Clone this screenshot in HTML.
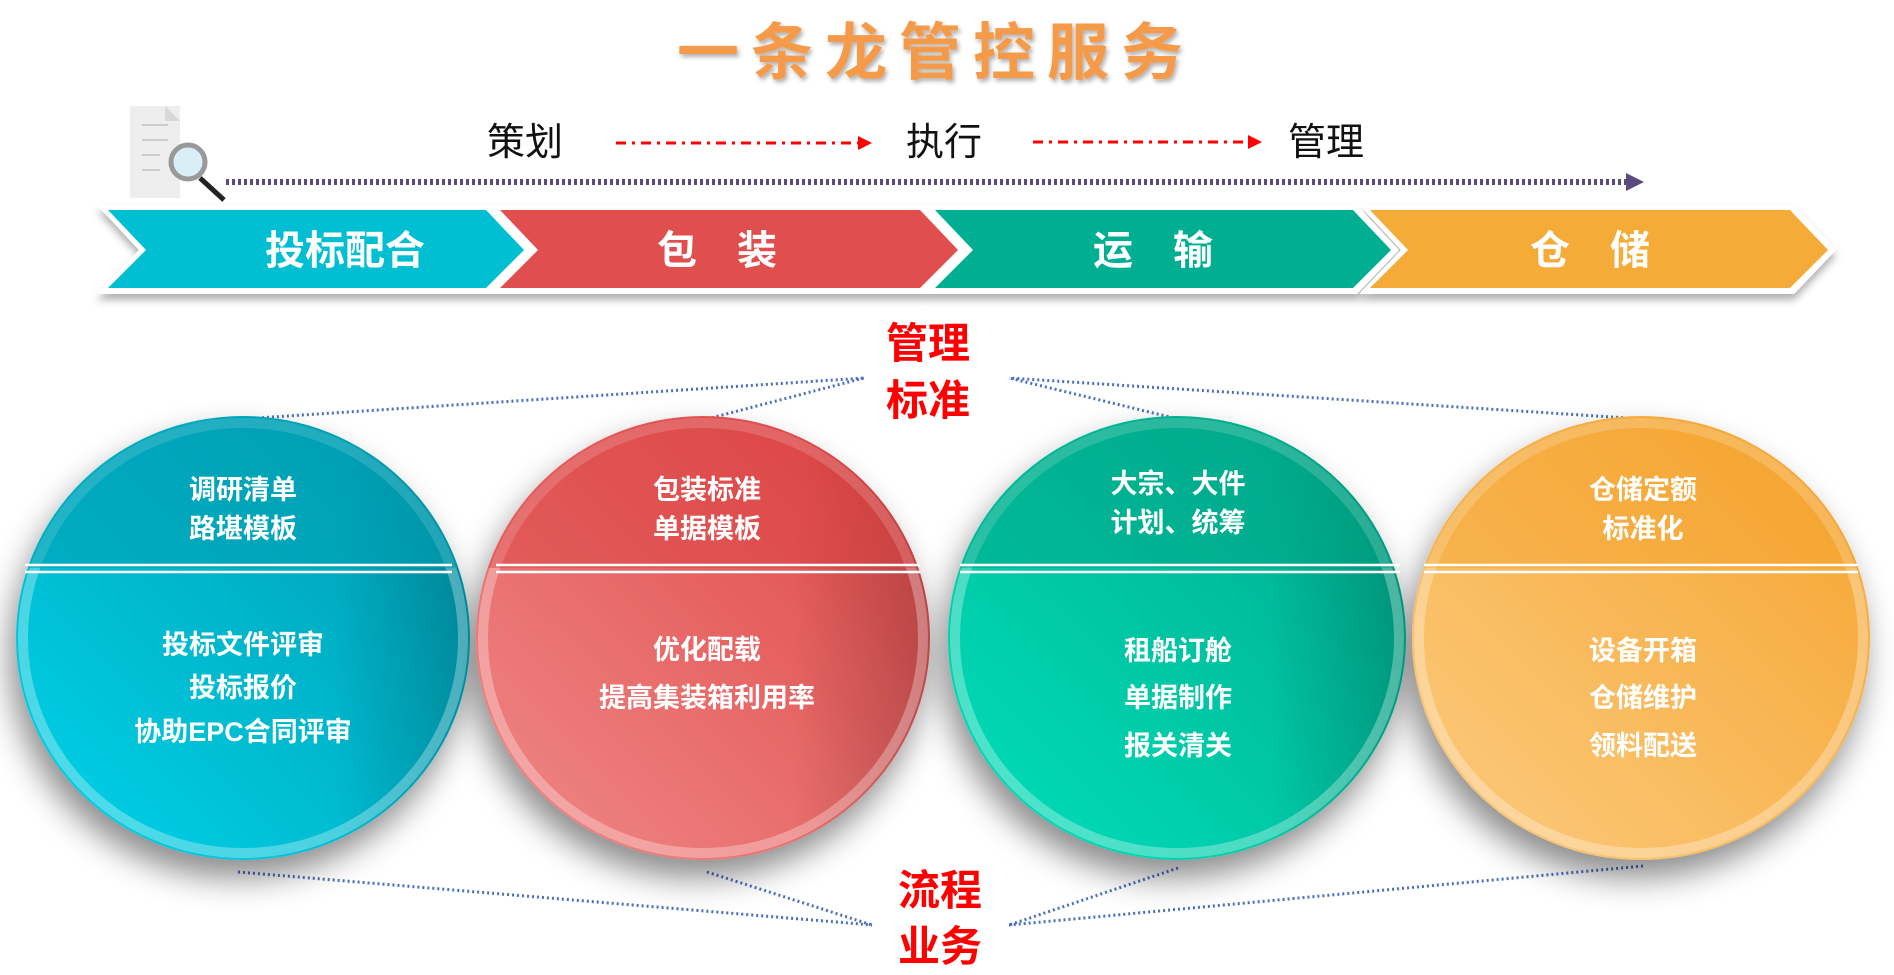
<!DOCTYPE html>
<html><head><meta charset="utf-8"><style>
html,body{margin:0;padding:0;background:#fff;}
svg{display:block;}
text{font-family:"Liberation Sans","Noto Sans CJK SC",sans-serif;}
</style></head><body>
<svg width="1894" height="975" viewBox="0 0 1894 975" xmlns="http://www.w3.org/2000/svg">
<defs>
<filter id="sh" x="-20%" y="-20%" width="140%" height="150%"><feDropShadow dx="-6" dy="18" stdDeviation="16" flood-color="#000" flood-opacity="0.45"/></filter>
<filter id="ts" x="-10%" y="-10%" width="120%" height="130%"><feDropShadow dx="2" dy="3" stdDeviation="2" flood-color="#000" flood-opacity="0.3"/></filter>
<filter id="cs" x="-5%" y="-10%" width="110%" height="140%"><feDropShadow dx="0" dy="6" stdDeviation="4" flood-color="#000" flood-opacity="0.3"/></filter>
<linearGradient id="g1" x1="0" y1="1" x2="1" y2="0"><stop offset="0" stop-color="#00d4ea"/><stop offset="1" stop-color="#0098ae"/></linearGradient>
<linearGradient id="g2" x1="0" y1="1" x2="1" y2="0"><stop offset="0" stop-color="#f08a88"/><stop offset="1" stop-color="#de4444"/></linearGradient>
<linearGradient id="g3" x1="0" y1="1" x2="1" y2="0"><stop offset="0" stop-color="#00e0bb"/><stop offset="1" stop-color="#00a88a"/></linearGradient>
<linearGradient id="g4" x1="0" y1="1" x2="1" y2="0"><stop offset="0" stop-color="#fccb80"/><stop offset="1" stop-color="#f5a42e"/></linearGradient>
<linearGradient id="edge" x1="0" y1="0" x2="1" y2="0"><stop offset="0.7" stop-color="#000" stop-opacity="0"/><stop offset="1" stop-color="#000" stop-opacity="0.18"/></linearGradient>
</defs>

<text x="936" y="74" text-anchor="middle" font-size="62" font-weight="bold" fill="#f59a4a" letter-spacing="12" filter="url(#ts)">一条龙管控服务</text>

<!-- doc icon -->
<rect x="130" y="106" width="50" height="92" fill="#eeeeee"/>
<path d="M165 106 L180 121 L165 121 Z" fill="#d8d8d8"/>
<g stroke="#ccc" stroke-width="2"><line x1="142" y1="125" x2="168" y2="125"/><line x1="142" y1="140" x2="168" y2="140"/><line x1="142" y1="155" x2="160" y2="155"/><line x1="142" y1="170" x2="160" y2="170"/></g>
<line x1="200" y1="178" x2="224" y2="200" stroke="#222" stroke-width="5"/>
<circle cx="188" cy="162" r="17" fill="#d9eef7" stroke="#999" stroke-width="5"/>

<text x="525" y="155" text-anchor="middle" font-size="38" fill="#111">策划</text>
<text x="944" y="155" text-anchor="middle" font-size="38" fill="#111">执行</text>
<text x="1326" y="155" text-anchor="middle" font-size="38" fill="#111">管理</text>
<line x1="616" y1="143" x2="860" y2="143" stroke="#f00" stroke-width="3" stroke-dasharray="10,6,3,6"/>
<path d="M858 136 L872 143 L858 150Z" fill="#f00"/>
<line x1="1033" y1="142" x2="1250" y2="142" stroke="#f00" stroke-width="3" stroke-dasharray="10,6,3,6"/>
<path d="M1248 135 L1262 142 L1248 149Z" fill="#f00"/>
<line x1="226" y1="182" x2="1628" y2="182" stroke="#5a4a80" stroke-width="6" stroke-dasharray="3,3"/>
<path d="M1626 173 L1644 182 L1626 191Z" fill="#5a4a80"/>

<!-- chevrons -->
<g filter="url(#cs)">
<path d="M97 205 L490 205 L532 250 L490 294 L97 294 L139 250Z" fill="#fff"/>
<path d="M489 205 L924 205 L966 250 L924 294 L489 294 L531 250Z" fill="#fff"/>
<path d="M924 205 L1357 205 L1399 250 L1357 294 L924 294 L966 250Z" fill="#fff"/>
<path d="M1359 205 L1794 205 L1836 250 L1794 294 L1359 294 L1401 250Z" fill="#fff"/>
</g>
<path d="M108 210 L486 210 L524 250 L486 288 L108 288 L146 250Z" fill="#00bfd2"/>
<path d="M500 210 L920 210 L958 250 L920 288 L500 288 L538 250Z" fill="#e04e4e"/>
<path d="M935 210 L1353 210 L1391 250 L1353 288 L935 288 L973 250Z" fill="#00ae92"/>
<path d="M1370 210 L1790 210 L1828 250 L1790 288 L1370 288 L1408 250Z" fill="#f5ab38"/>
<g font-size="40" font-weight="bold" fill="#fff" text-anchor="middle">
<text x="345" y="264">投标配合</text>
<text x="737" y="264" letter-spacing="40">包装</text>
<text x="1173" y="264" letter-spacing="40">运输</text>
<text x="1610" y="264" letter-spacing="40">仓储</text>
</g>

<g font-size="42" font-weight="bold" fill="#f00" text-anchor="middle">
<text x="928" y="358">管理</text><text x="928" y="415">标准</text>
<text x="940" y="905">流程</text><text x="940" y="961">业务</text>
</g>

<!-- dotted connectors -->
<g stroke="#4a6fc0" stroke-width="3" stroke-dasharray="2,3" fill="none">
<line x1="242" y1="419" x2="864" y2="378"/><line x1="707" y1="419" x2="864" y2="378"/>
<line x1="1178" y1="419" x2="1009" y2="378"/><line x1="1643" y1="419" x2="1009" y2="378"/>
<line x1="238" y1="872" x2="872" y2="925"/><line x1="707" y1="872" x2="872" y2="925"/>
<line x1="1178" y1="868" x2="1009" y2="925"/><line x1="1643" y1="866" x2="1009" y2="925"/>
</g>

<!-- circles -->
<g filter="url(#sh)">
<ellipse cx="243" cy="638" rx="227" ry="222" fill="url(#g1)"/>
<ellipse cx="703" cy="638" rx="227" ry="222" fill="url(#g2)"/>
<ellipse cx="1177" cy="638" rx="229" ry="222" fill="url(#g3)"/>
<ellipse cx="1641" cy="638" rx="229" ry="222" fill="url(#g4)"/>
</g>
<ellipse cx="243" cy="638" rx="227" ry="222" fill="url(#edge)"/>
<ellipse cx="703" cy="638" rx="227" ry="222" fill="url(#edge)"/>
<ellipse cx="1177" cy="638" rx="229" ry="222" fill="url(#edge)"/>
<g fill="none" stroke-width="10" stroke-opacity="0.3" stroke="#fff">
<ellipse cx="243" cy="638" rx="220" ry="215"/><ellipse cx="703" cy="638" rx="220" ry="215"/>
<ellipse cx="1177" cy="638" rx="222" ry="215"/><ellipse cx="1641" cy="638" rx="222" ry="215"/>
</g>
<!-- darker tops -->
<path d="M28 568 A227 222 0 0 1 458 568Z" fill="#009fb3" opacity="0.55"/>
<path d="M488 568 A227 222 0 0 1 918 568Z" fill="#d94040" opacity="0.45"/>
<path d="M960 568 A229 222 0 0 1 1394 568Z" fill="#00a283" opacity="0.45"/>
<path d="M1424 568 A229 222 0 0 1 1858 568Z" fill="#f3a028" opacity="0.35"/>
<g stroke="#fff" stroke-width="2.5">
<line x1="25" y1="565" x2="452" y2="565"/><line x1="25" y1="572" x2="452" y2="572"/>
<line x1="496" y1="565" x2="920" y2="565"/><line x1="496" y1="572" x2="920" y2="572"/>
<line x1="960" y1="565" x2="1400" y2="565"/><line x1="960" y1="572" x2="1400" y2="572"/>
<line x1="1424" y1="565" x2="1858" y2="565"/><line x1="1424" y1="572" x2="1858" y2="572"/>
</g>
<g font-size="27" font-weight="bold" fill="#fff" text-anchor="middle">
<text x="243" y="499">调研清单</text><text x="243" y="538">路堪模板</text>
<text x="243" y="654">投标文件评审</text><text x="243" y="697">投标报价</text><text x="243" y="741">协助EPC合同评审</text>
<text x="707" y="499">包装标准</text><text x="707" y="538">单据模板</text>
<text x="707" y="659">优化配载</text><text x="707" y="707">提高集装箱利用率</text>
<text x="1178" y="493">大宗、大件</text><text x="1178" y="532">计划、统筹</text>
<text x="1178" y="660">租船订舱</text><text x="1178" y="707">单据制作</text><text x="1178" y="755">报关清关</text>
<text x="1643" y="499">仓储定额</text><text x="1643" y="538">标准化</text>
<text x="1643" y="660">设备开箱</text><text x="1643" y="707">仓储维护</text><text x="1643" y="755">领料配送</text>
</g>
</svg>
</body></html>
